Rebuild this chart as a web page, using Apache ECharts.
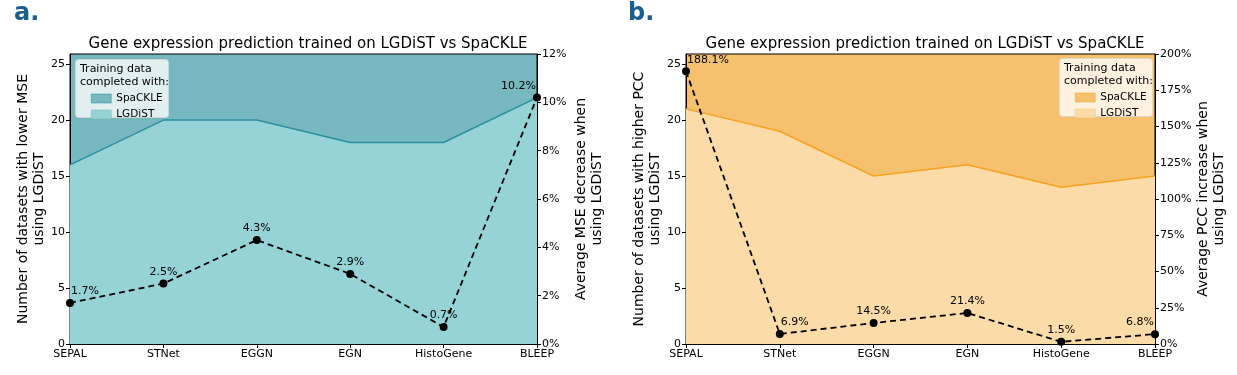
<!DOCTYPE html>
<html>
<head>
<meta charset="utf-8">
<script src="https://cdn.jsdelivr.net/npm/echarts@6/dist/echarts.min.js"></script>
<style>
  html, body { margin: 0; padding: 0; background: #fff; }
  #charts { width: 1237px; height: 375px; }
</style>
</head>
<body>
<div id="charts"></div>
<script>
// data
var methods = ['SEPAL', 'STNet', 'EGGN', 'EGN', 'HistoGene', 'BLEEP'];
var mseCounts = [16, 20, 20, 18, 18, 22];          // datasets with lower MSE using LGDiST
var mseDecrease = [1.7, 2.5, 4.3, 2.9, 0.7, 10.2]; // average MSE decrease (%)
var pccCounts = [21, 19, 15, 16, 14, 15];          // datasets with higher PCC using LGDiST
var pccIncrease = [188.1, 6.9, 14.5, 21.4, 1.5, 6.8]; // average PCC increase (%)

// where each percent label sits relative to its dot
var mseLabelAlign = ['left', 'center', 'center', 'center', 'center', 'right'];
var pccLabelAlign = ['left', 'left', 'center', 'center', 'center', 'right'];

var FONT = 'DejaVu Sans';
var titleText = 'Gene expression prediction trained on LGDiST vs SpaCKLE';

var teal = { dark: '#76b7c0', light: '#95d3d6', line: '#2a909c' };
var orange = { dark: '#f6c16f', light: '#fbdba8', line: '#f6a21e' };

function pctData(vals, aligns) {
    return vals.map(function (v, i) {
        var item = { value: v };
        if (aligns[i] === 'left') item.label = { align: 'left', offset: [1, 0] };
        if (aligns[i] === 'right') item.label = { align: 'right', offset: [-1, 0] };
        return item;
    });
}

function countAxis(gi, name, gap) {
    return {
        type: 'value', gridIndex: gi, position: 'left',
        min: 0, max: 25.9, interval: 5,
        name: name, nameLocation: 'middle', nameRotate: 90, nameGap: gap,
        nameTextStyle: { fontFamily: FONT, fontSize: 14, color: '#000', lineHeight: 16 },
        axisLine: { show: true, lineStyle: { color: '#000', width: 1 } },
        axisTick: { show: true, length: 4, lineStyle: { color: '#000' } },
        axisLabel: { fontFamily: FONT, fontSize: 11, color: '#000', margin: 5, showMaxLabel: false },
        splitLine: { show: false }
    };
}

function pctAxis(gi, max, interval, name, gap) {
    return {
        type: 'value', gridIndex: gi, position: 'right',
        min: 0, max: max, interval: interval,
        name: name, nameLocation: 'middle', nameRotate: 90, nameGap: gap,
        nameTextStyle: { fontFamily: FONT, fontSize: 14, color: '#000', lineHeight: 16 },
        axisLine: { show: true, lineStyle: { color: '#000', width: 1 } },
        axisTick: { show: true, length: 4, lineStyle: { color: '#000' } },
        axisLabel: { fontFamily: FONT, fontSize: 11, color: '#000', margin: 5, formatter: '{value}%' },
        splitLine: { show: false }
    };
}

function catAxis(gi) {
    return {
        type: 'category', gridIndex: gi, data: methods, boundaryGap: false,
        axisLine: { lineStyle: { color: '#000', width: 1 } },
        axisTick: { length: 4, lineStyle: { color: '#000' } },
        axisLabel: { fontFamily: FONT, fontSize: 11, color: '#000', margin: 5 },
        splitLine: { show: false }
    };
}

function legendFor(x, y, pal) {
    return {
        left: x + 11, top: y + 29, orient: 'vertical', z: 20,
        icon: 'rect', itemWidth: 20, itemHeight: 9, itemGap: 5,
        textStyle: { fontFamily: FONT, fontSize: 10.5, color: '#000' },
        data: [
            { name: 'SpaCKLE', itemStyle: { color: pal.dark, borderColor: pal.line, borderWidth: 0.5 } },
            { name: 'LGDiST', itemStyle: { color: pal.light, borderColor: pal.dark, borderWidth: 0.5 } }
        ]
    };
}

function legendBox(x, y) {
    return [
        {
            type: 'rect', left: x, top: y, z: 10,
            shape: { width: 93, height: 58, r: 3 },
            style: { fill: 'rgba(255,255,255,0.78)', stroke: 'rgba(215,215,215,0.8)', lineWidth: 1 }
        },
        {
            type: 'text', left: x + 5, top: y + 4, z: 11,
            style: { text: 'Training data\ncompleted with:', font: '11px "DejaVu Sans"', fill: '#000', lineHeight: 13 }
        }
    ];
}

function initECharts(myChart) {
    var option = {
        animation: false,
        title: [
            { text: titleText, left: 303, top: 32, textAlign: 'center',
              textStyle: { fontFamily: FONT, fontSize: 15, fontWeight: 'normal', color: '#000' } },
            { text: titleText, left: 920, top: 32, textAlign: 'center',
              textStyle: { fontFamily: FONT, fontSize: 15, fontWeight: 'normal', color: '#000' } }
        ],
        grid: [
            { left: 70, right: 700, top: 54, bottom: 31, show: true,
              backgroundColor: teal.dark, borderColor: '#000', borderWidth: 1 },
            { left: 686, right: 82, top: 54, bottom: 31, show: true,
              backgroundColor: orange.dark, borderColor: '#000', borderWidth: 1 }
        ],
        legend: [legendFor(75, 59, teal), legendFor(1059, 58, orange)],
        xAxis: [catAxis(0), catAxis(1)],
        yAxis: [
            countAxis(0, 'Number of datasets with lower MSE\nusing LGDiST', 17),
            pctAxis(0, 12, 2, 'Average MSE decrease when\nusing LGDiST', 36),
            countAxis(1, 'Number of datasets with higher PCC\nusing LGDiST', 20),
            pctAxis(1, 200, 25, 'Average PCC increase when\nusing LGDiST', 39)
        ],
        series: [
            { name: 'SpaCKLE', type: 'line', xAxisIndex: 0, yAxisIndex: 0, data: [], itemStyle: { color: teal.dark } },
            { name: 'LGDiST', type: 'line', xAxisIndex: 0, yAxisIndex: 0, data: mseCounts,
              symbol: 'none', lineStyle: { color: teal.line, width: 1.5 },
              itemStyle: { color: teal.light }, areaStyle: { color: teal.light, opacity: 1 } },
            { name: 'mse pct', type: 'line', xAxisIndex: 0, yAxisIndex: 1, data: pctData(mseDecrease, mseLabelAlign),
              symbol: 'circle', symbolSize: 8, itemStyle: { color: '#000' },
              lineStyle: { color: '#000', width: 1.8, type: [6, 4] },
              label: { show: true, position: 'top', distance: 2, formatter: '{c}%',
                       fontFamily: FONT, fontSize: 11, color: '#000' }, z: 5 },

            { name: 'SpaCKLE', type: 'line', xAxisIndex: 1, yAxisIndex: 2, data: [], itemStyle: { color: orange.dark } },
            { name: 'LGDiST', type: 'line', xAxisIndex: 1, yAxisIndex: 2, data: pccCounts,
              symbol: 'none', lineStyle: { color: orange.line, width: 1.5 },
              itemStyle: { color: orange.light }, areaStyle: { color: orange.light, opacity: 1 } },
            { name: 'pcc pct', type: 'line', xAxisIndex: 1, yAxisIndex: 3, data: pctData(pccIncrease, pccLabelAlign),
              symbol: 'circle', symbolSize: 8, itemStyle: { color: '#000' },
              lineStyle: { color: '#000', width: 1.8, type: [6, 4] },
              label: { show: true, position: 'top', distance: 2, formatter: '{c}%',
                       fontFamily: FONT, fontSize: 11, color: '#000' }, z: 5 }
        ],
        graphic: {
            elements: [
                { type: 'text', left: 14, top: 2,
                  style: { text: 'a.', font: 'bold 24px "DejaVu Sans"', fill: '#1b5e8c' } },
                { type: 'text', left: 628, top: 2,
                  style: { text: 'b.', font: 'bold 24px "DejaVu Sans"', fill: '#1b5e8c' } }
            ].concat(legendBox(75, 59)).concat(legendBox(1059, 58))
        }
    };
    myChart.setOption(option);
}

window.onload = function () {
    var myChart = echarts.init(document.getElementById('charts'));
    initECharts(myChart);
};
</script>
</body>
</html>
